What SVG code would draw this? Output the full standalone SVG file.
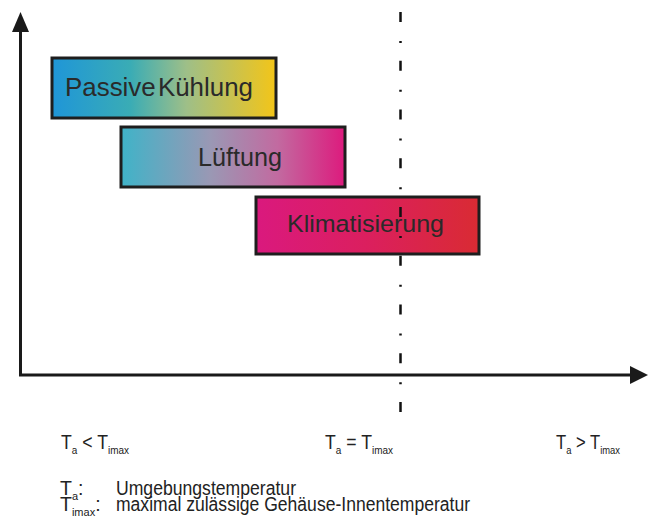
<svg xmlns="http://www.w3.org/2000/svg" width="649" height="523" viewBox="0 0 649 523">
<defs>
<style>
.box{stroke:#1e1e1e;stroke-width:3}
.bt{font-family:"Liberation Sans",Arial,sans-serif;fill:#2a2a2a}
.axis{stroke:#1a1a1a;stroke-width:3;fill:none}
.lbl{font-family:"Liberation Sans",Arial,sans-serif;font-size:19.5px;fill:#222}
.sub{font-size:11px}
</style>
<linearGradient id="gP" x1="0" y1="0" x2="1" y2="0">
<stop offset="0" stop-color="#1f96d8"/>
<stop offset="0.35" stop-color="#3aacb5"/>
<stop offset="0.6" stop-color="#9ebf88"/>
<stop offset="1" stop-color="#f3c518"/>
</linearGradient>
<linearGradient id="gL" x1="0" y1="0" x2="1" y2="0">
<stop offset="0" stop-color="#3fb3c8"/>
<stop offset="0.4" stop-color="#9a98b4"/>
<stop offset="0.7" stop-color="#c26aa0"/>
<stop offset="1" stop-color="#dd1a7d"/>
</linearGradient>
<linearGradient id="gK" x1="0" y1="0" x2="1" y2="0">
<stop offset="0" stop-color="#da197e"/>
<stop offset="0.5" stop-color="#db1f5e"/>
<stop offset="1" stop-color="#d92b33"/>
</linearGradient>
</defs>
<rect width="649" height="523" fill="#fff"/>
<g id="node-passive">
<rect class="box" x="52" y="58" width="224" height="60" fill="url(#gP)"/>
<text class="bt" x="65" y="96" font-size="26" word-spacing="-5" textLength="188" lengthAdjust="spacingAndGlyphs">Passive Kühlung</text>
</g>
<g id="node-lueftung">
<rect class="box" x="121" y="127" width="224" height="60" fill="url(#gL)"/>
<text class="bt" x="198" y="166" font-size="25" textLength="84" lengthAdjust="spacingAndGlyphs">Lüftung</text>
</g>
<g id="node-klima">
<rect class="box" x="256" y="197" width="223" height="57" fill="url(#gK)"/>
<text class="bt" x="287" y="232" font-size="24.5" textLength="157" lengthAdjust="spacingAndGlyphs">Klimatisierung</text>
</g>
<g id="connectors">
<line class="axis" x1="20.5" y1="28" x2="20.5" y2="375"/>
<line class="axis" x1="19" y1="375" x2="632" y2="375"/>
<polygon points="20.5,12 29,32 12,32" fill="#1a1a1a"/>
<polygon points="648,375 630,366 630,384" fill="#1a1a1a"/>
<line x1="400.5" y1="12" x2="400.5" y2="414" stroke="#111" stroke-width="2.5" stroke-dasharray="10 19 2 17.75"/>
</g>
<g id="labels">
<text class="lbl" x="61" y="449" textLength="68" lengthAdjust="spacingAndGlyphs">T<tspan class="sub" dy="5">a</tspan><tspan dy="-5"> &lt; T</tspan><tspan class="sub" dy="5">imax</tspan></text>
<text class="lbl" x="325" y="449" textLength="68" lengthAdjust="spacingAndGlyphs">T<tspan class="sub" dy="5">a</tspan><tspan dy="-5"> = T</tspan><tspan class="sub" dy="5">imax</tspan></text>
<text class="lbl" x="556" y="449" textLength="64" lengthAdjust="spacingAndGlyphs">T<tspan class="sub" dy="5">a</tspan><tspan dy="-5"> &gt; T</tspan><tspan class="sub" dy="5">imax</tspan></text>
</g>
<g id="legend">
<text class="lbl" x="60" y="495">T<tspan class="sub" dy="5">a</tspan><tspan dy="-5">:</tspan></text>
<text class="lbl" x="116" y="495" textLength="180" lengthAdjust="spacingAndGlyphs">Umgebungstemperatur</text>
<text class="lbl" x="60" y="511">T<tspan class="sub" dy="5">imax</tspan><tspan dy="-5">:</tspan></text>
<text class="lbl" x="116" y="511" textLength="354" lengthAdjust="spacingAndGlyphs">maximal zulässige Gehäuse-Innentemperatur</text>
</g>
</svg>
